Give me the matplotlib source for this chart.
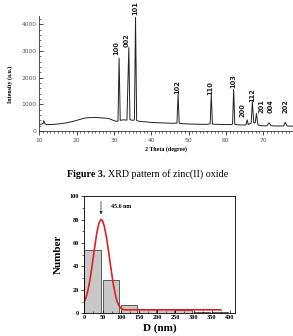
import numpy as np
import matplotlib
matplotlib.use('Agg')
import matplotlib.pyplot as plt
from matplotlib.ticker import MultipleLocator

# XRD spectrum (2 theta in degree, intensity in a.u.)
two_theta = [10.0, 10.6, 11.0, 11.2, 11.5, 12.0, 13.0, 14.0, 15.0, 16.0, 17.0, 18.0, 19.0,
             20.0, 21.0, 22.0, 23.0, 24.0, 25.0, 26.0, 27.0, 28.0, 28.6, 29.0, 30.0, 30.8,
             31.1, 31.4, 31.7, 32.5, 33.5, 34.0, 34.3, 35.0, 35.5, 35.8, 36.1, 36.6, 38.0,
             39.0, 40.0, 42.0, 44.0, 46.0, 46.9, 47.2, 47.5, 49.0, 51.0, 53.0, 55.0, 55.8,
             56.1, 56.4, 58.0, 60.0, 61.5, 61.8, 62.1, 62.4, 63.5, 65.0, 65.4, 65.7, 66.0,
             66.8, 67.1, 67.5, 67.9, 68.2, 68.6, 69.5, 71.0, 71.6, 72.1, 73.0, 74.5, 75.5,
             75.9, 76.4, 78.0]
intensity = [250, 260, 280, 390, 280, 240, 245, 250, 265, 280, 300, 330, 360,
             400, 440, 480, 500, 505, 510, 500, 490, 480, 470, 450, 390, 360,
             380, 2730, 400, 420, 410, 3130, 430, 400, 420, 4260, 400, 370, 350,
             340, 320, 310, 300, 290, 300, 1380, 290, 270, 260, 255, 250, 270,
             1380, 260, 250, 245, 240, 260, 1560, 250, 230, 225, 240, 420, 240,
             300, 1100, 300, 320, 660, 230, 200, 195, 310, 200, 190, 190, 190,
             330, 190, 180]

peak_hkl = ['100', '002', '101', '102', '110', '103', '200', '112', '201', '004', '202']
label_x = [30.7, 33.35, 35.85, 47.0, 55.9, 61.9, 64.5, 67.2, 69.6, 72.1, 76.1]
label_y = [2850, 3160, 4350, 1400, 1350, 1600, 540, 1100, 660, 660, 660]

# particle size distribution
size_bins = [0, 50, 100, 150, 200, 250, 300, 350]
size_count = [54, 28, 7, 4, 4, 2.5, 1, 1]
fit_d = [0, 5, 10, 15, 20, 25, 30, 35, 40, 45.6, 50, 55, 60, 65, 70, 75, 80, 85, 90,
         95, 100, 105, 110, 375]
fit_n = [10, 14, 20, 28, 38, 49, 60, 70, 77, 80, 79, 74, 66, 56, 45, 34, 24, 16, 10,
         6.5, 4.5, 3.5, 3, 3]

fig = plt.figure(figsize=(2.93, 3.36), dpi=100)

# ---- XRD pattern ----
ax1 = fig.add_axes([0.134, 0.610, 0.866, 0.3414])
ax1.plot(two_theta, intensity, color='#222222', lw=0.7)
ax1.set_xlim(10, 78)
ax1.set_ylim(0, 4300)
for s in ['top', 'right']:
    ax1.spines[s].set_visible(False)
for s in ['left', 'bottom']:
    ax1.spines[s].set_linewidth(0.6)
    ax1.spines[s].set_color('#333333')
ax1.xaxis.set_major_locator(MultipleLocator(10))
ax1.xaxis.set_minor_locator(MultipleLocator(1))
ax1.yaxis.set_major_locator(MultipleLocator(1000))
ax1.yaxis.set_minor_locator(MultipleLocator(200))
ax1.tick_params(axis='both', which='major', labelsize=4.3, labelcolor='#555555',
                length=3, width=0.5, pad=2)
ax1.tick_params(axis='both', which='minor', length=1.6, width=0.4)
ax1.tick_params(axis='y', which='both', direction='in')
for x, y, t in zip(label_x, label_y, peak_hkl):
    ax1.text(x, y, t, rotation=90, ha='center', va='bottom', clip_on=False,
             fontsize=4.8, fontweight='bold', color='#222222')
ax1.set_xlabel('2 Theta (degree)', fontsize=4.3, fontweight='bold',
               family='Liberation Serif', labelpad=2)
fig.text(0.034, 0.75, 'Intensity (a.u.)', rotation=90, ha='center', va='center',
         fontsize=4.3, fontweight='bold', family='Liberation Serif')

# caption, two pieces set side by side
cap1 = fig.text(0.229, 0.482, 'Figure 3.', fontsize=7.2, fontweight='bold',
                family='Liberation Serif', va='center', ha='left')
fig.canvas.draw()
bb = cap1.get_window_extent(fig.canvas.get_renderer())
fig.text(bb.x1 / fig.bbox.width + 0.008, 0.482, 'XRD pattern of zinc(II) oxide',
         fontsize=7.2, family='Liberation Serif', va='center', ha='left')

# ---- size histogram ----
ax2 = fig.add_axes([0.288, 0.0675, 0.514, 0.349])
ax2.bar(size_bins, size_count, width=46, align='edge', color='#c8c8c8',
        edgecolor='#444444', linewidth=0.6)
ax2.plot(fit_d, fit_n, color='#e02020', lw=1.2)
ax2.set_xlim(0, 414)
ax2.set_ylim(0, 100)
ax2.xaxis.set_major_locator(MultipleLocator(50))
ax2.yaxis.set_major_locator(MultipleLocator(20))
ax2.xaxis.set_minor_locator(MultipleLocator(25))
ax2.yaxis.set_minor_locator(MultipleLocator(10))
for s in ax2.spines.values():
    s.set_linewidth(0.6)
ax2.tick_params(axis='both', which='major', labelsize=4.5, length=2.5, width=0.5, pad=1.5)
ax2.tick_params(axis='both', which='minor', length=1.3, width=0.4)
ax2.tick_params(axis='x', which='both', direction='in')
for lab in ax2.get_xticklabels() + ax2.get_yticklabels():
    lab.set_fontweight('bold')
    lab.set_family('Liberation Serif')
ax2.set_xlabel('D (nm)', fontsize=8, fontweight='bold', family='Liberation Serif',
               labelpad=2)
ax2.set_ylabel('Number', fontsize=8, fontweight='bold', family='Liberation Serif',
               labelpad=5)
ax2.annotate('', xy=(45.6, 82), xytext=(45.6, 98),
             arrowprops=dict(arrowstyle='-|>', color='#222222', lw=0.5,
                             mutation_scale=4))
ax2.text(73, 91, '45.6 nm', fontsize=4.3, fontweight='bold', family='Liberation Serif',
         va='center', ha='left')

fig.savefig('out.png', dpi=100)
